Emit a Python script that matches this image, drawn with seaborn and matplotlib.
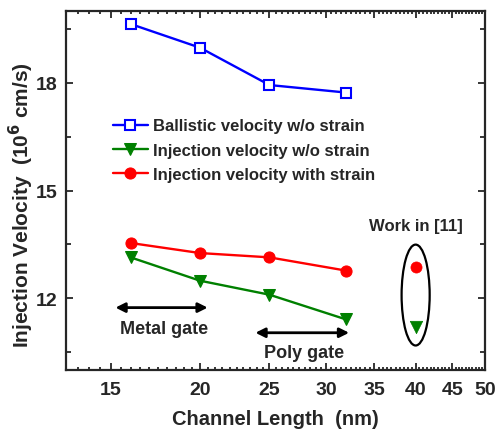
import numpy as np
import pandas as pd
import matplotlib
matplotlib.use("Agg")
import matplotlib.pyplot as plt
import seaborn as sns
from matplotlib.ticker import FixedLocator, MultipleLocator, NullFormatter, FixedFormatter
from matplotlib.patches import Ellipse

# ---- data ----
lengths = [16, 20, 25, 32]
ballistic = [19.64, 18.98, 17.94, 17.73]
inj_no_strain = [13.14, 12.49, 12.10, 11.41]
inj_strain = [13.54, 13.26, 13.14, 12.77]
ref_length = [40]
ref_no_strain = [11.19]
ref_strain = [12.86]
x_ticks = [15, 20, 25, 30, 35, 40, 45, 50]
y_ticks = [12, 15, 18]

sns.set_style("ticks")
plt.rcParams['font.family'] = ['Liberation Sans', 'DejaVu Sans']
plt.rcParams['font.weight'] = 'bold'
plt.rcParams['mathtext.default'] = 'bf'

fig = plt.figure(figsize=(4.98, 4.31), dpi=100)
ax = fig.add_axes([0.1325, 0.139, 0.974 - 0.1325, 0.972 - 0.139])

df_b = pd.DataFrame({"x": lengths, "y": ballistic})
df_n = pd.DataFrame({"x": lengths, "y": inj_no_strain})
df_s = pd.DataFrame({"x": lengths, "y": inj_strain})

sns.lineplot(data=df_b, x="x", y="y", ax=ax, color="#0000FF", lw=1.7,
             marker="s", markersize=7, markerfacecolor="white",
             markeredgecolor="#0000FF", markeredgewidth=1.5,
             label="Ballistic velocity w/o strain")
sns.lineplot(data=df_n, x="x", y="y", ax=ax, color="#008000", lw=1.7,
             marker="v", markersize=9, markeredgecolor="#008000",
             markerfacecolor="#008000", label="Injection velocity w/o strain")
sns.lineplot(data=df_s, x="x", y="y", ax=ax, color="#FF0000", lw=1.7,
             marker="o", markersize=8, markeredgecolor="#FF0000",
             markerfacecolor="#FF0000", label="Injection velocity with strain")

sns.scatterplot(x=ref_length, y=ref_no_strain, ax=ax, color="#008000",
                marker="v", s=80, edgecolor="#008000", linewidth=0.5, legend=False)
sns.scatterplot(x=ref_length, y=ref_strain, ax=ax, color="#FF0000",
                marker="o", s=64, edgecolor="#FF0000", linewidth=0.5, legend=False)

ax.set_xscale("log")
ax.set_xlim(13, 50)
ax.set_ylim(10, 20)

ax.xaxis.set_major_locator(FixedLocator(x_ticks))
ax.xaxis.set_major_formatter(FixedFormatter([str(t) for t in x_ticks]))
minor = [v for v in np.arange(13, 50.01, 0.5) if v not in x_ticks]
ax.xaxis.set_minor_locator(FixedLocator(minor))
ax.xaxis.set_minor_formatter(NullFormatter())
ax.yaxis.set_major_locator(MultipleLocator(3))
ax.yaxis.set_minor_locator(MultipleLocator(1.5))

for s in ax.spines.values():
    s.set_linewidth(1.6)
    s.set_visible(True)
ax.tick_params(which="both", direction="in", top=True, right=True, width=1.3)
ax.tick_params(which="major", length=5, labelsize=14)
ax.tick_params(axis="x", which="major", pad=8)
ax.tick_params(axis="y", which="major", pad=6)
ax.tick_params(which="minor", length=2.5)
ax.tick_params(axis="y", which="minor", length=3.5)
for lab in ax.get_xticklabels() + ax.get_yticklabels():
    lab.set_fontweight("bold")

ax.set_xlabel("Channel Length  (nm)", fontsize=14.5, fontweight="bold", labelpad=8)
ax.set_ylabel("Injection Velocity  (10$^{6}$ cm/s)", fontsize=15, fontweight="bold")
ax.yaxis.set_label_coords(-0.071, 0.462)

leg = ax.legend(loc="center left", bbox_to_anchor=(0.112, 0.613), frameon=False,
                handlelength=2.1, handletextpad=0.3, labelspacing=0.55,
                borderaxespad=0, borderpad=0, prop={"weight": "bold", "size": 12})

# arrows and annotations
arrow = dict(arrowstyle="<|-|>", lw=2, color="black", mutation_scale=14,
             shrinkA=0, shrinkB=0)
ax.annotate("", xy=(20.5, 11.74), xytext=(15.24, 11.74), arrowprops=arrow)
ax.text(17.8, 11.17, "Metal gate", ha="center", va="center", fontsize=13, fontweight="bold")
ax.annotate("", xy=(32.3, 11.04), xytext=(23.9, 11.04), arrowprops=arrow)
ax.text(27.96, 10.5, "Poly gate", ha="center", va="center", fontsize=13, fontweight="bold")
ax.text(40, 14.02, "Work in [11]", ha="center", va="center", fontsize=12, fontweight="bold")

# ellipse in axes coordinates around the reference points
xc = (np.log(40) - np.log(13)) / (np.log(50) - np.log(13))
yc = (12.09 - 10) / 10
ax.add_patch(Ellipse((xc, yc), 0.067, 0.281, transform=ax.transAxes,
                     fill=False, edgecolor="black", lw=1.6))

fig.savefig("out.png", dpi=100)
